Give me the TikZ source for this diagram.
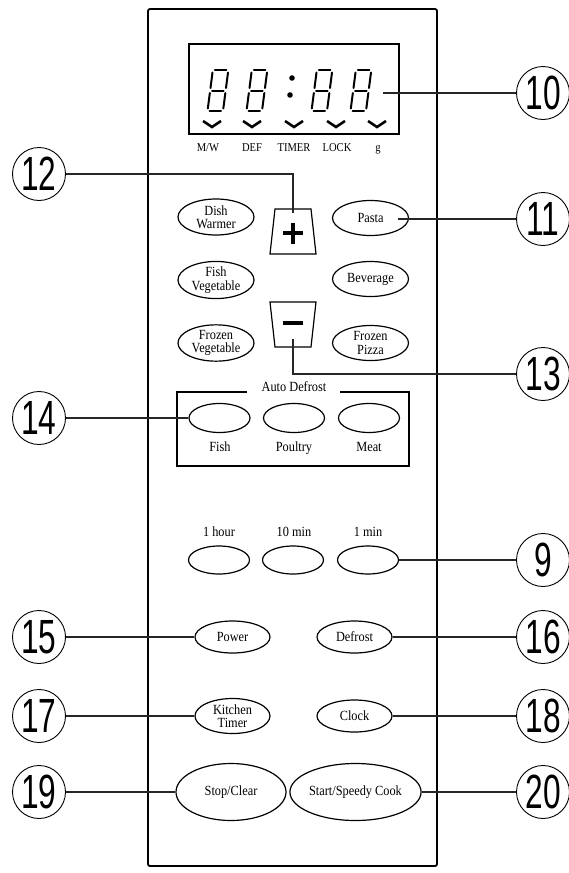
\documentclass[tikz,border=0pt]{standalone}
\usepackage{fontspec}
\usepackage{graphicx}
\setmainfont{Liberation Serif}[FakeStretch=0.88]
\newfontfamily\numfont{Liberation Sans}
\usetikzlibrary{shapes.geometric}
\tikzset{
  btn/.style={ellipse, draw, line width=1.2pt, inner sep=0pt, align=center,
    font=\fontsize{14}{13.5}\selectfont},
  lbl/.style={inner sep=0pt, anchor=base, font=\fontsize{14}{14}\selectfont},
  dlbl/.style={inner sep=0pt, anchor=base, font=\fontsize{12}{12}\selectfont},
  num/.style={circle, draw, line width=0.9pt, minimum size=53pt, inner sep=0pt},
  lead/.style={line width=1.1pt, draw=black!85},
  seg/.style={line width=2pt, line cap=round}
}
\newcommand{\cnum}[1]{\numfont\fontsize{48}{48}\selectfont\scalebox{0.66}[1]{#1}}
\newcommand{\digitseg}[1]{%
  \begin{scope}[shift={(#1,111)}, xslant=0.13]
    \draw[seg] (2.5,0) -- (14,0);
    \draw[seg] (2.5,-20.5) -- (14,-20.5);
    \draw[seg] (2.5,-41) -- (14,-41);
    \draw[seg] (0.5,-2.5) -- (0.5,-18);
    \draw[seg] (0.5,-23) -- (0.5,-38.5);
    \draw[seg] (16,-2.5) -- (16,-18);
    \draw[seg] (16,-23) -- (16,-38.5);
  \end{scope}}
\newcommand{\chev}[1]{\draw[line width=2.6pt] (#1-9,121) -- (#1,127) -- (#1+9,121);}
\begin{document}
\begin{tikzpicture}[x=1pt, y=-1pt]
\useasboundingbox (0,0) rectangle (569,873);
% panel
\draw[line width=1.8pt, rounded corners=2pt] (148,9) rectangle (437,866);
% display
\draw[line width=1.4pt] (189,44) rectangle (399,134);
\digitseg{207}
\digitseg{246}
\digitseg{311}
\digitseg{350}
\fill (292,78) circle (2.8);
\fill (290,95) circle (2.8);
\chev{212}\chev{252}\chev{294}\chev{336}\chev{377}
\node[dlbl] (lmw) at (208,151) {M/W};
\node[dlbl] (ldef) at (252,151) {DEF};
\node[dlbl] (ltim) at (294,151) {TIMER};
\node[dlbl] (llock) at (337,151) {LOCK};
\node[dlbl] (lg) at (378,151) {g};
\coordinate (disp) at (383,93);
% plus / minus keys
\draw[line width=1.2pt] (275,209) -- (311,209) -- (316,254) -- (270,254) -- cycle;
\draw[line width=3.4pt] (283,233) -- (303,233) (293,222.5) -- (293,243.5);
\coordinate (plustop) at (293,213);
\draw[line width=1.2pt] (270,302) -- (316,302) -- (311,347) -- (275,347) -- cycle;
\draw[line width=3.4pt] (283,323) -- (303,323);
\coordinate (minusbot) at (293,339);
% programme buttons
\node[btn, minimum width=76pt, minimum height=36pt] (dish) at (216,217) {Dish\\Warmer};
\node[btn, minimum width=76pt, minimum height=35pt] (pasta) at (370.5,218) {Pasta};
\node[btn, minimum width=76pt, minimum height=35pt] (fishveg) at (216,280) {Fish\\Vegetable};
\node[btn, minimum width=76pt, minimum height=35pt] (bev) at (370.5,279) {Beverage};
\node[btn, minimum width=76pt, minimum height=35pt] (frozveg) at (216,343) {Frozen\\Vegetable};
\node[btn, minimum width=76pt, minimum height=35pt] (frozpiz) at (370.5,343) {Frozen\\Pizza};
\coordinate (pastaend) at (398,219);
% auto defrost
\draw[line width=1.3pt] (247,392) -- (177,392) -- (177,466) -- (409,466) -- (409,392) -- (340,392);
\node[lbl] (adlbl) at (294,391) {Auto Defrost};
\node[btn, minimum width=61pt, minimum height=29pt] (fish) at (219.5,418) {};
\node[btn, minimum width=61pt, minimum height=29pt] (poul) at (294,418) {};
\node[btn, minimum width=61pt, minimum height=29pt] (meat) at (369,418) {};
\node[lbl] (lfish) at (220,451) {Fish};
\node[lbl] (lpoul) at (294,451) {Poultry};
\node[lbl] (lmeat) at (369,451) {Meat};
% time keys
\node[lbl] (lhour) at (219,536) {1 hour};
\node[lbl] (l10) at (294,536) {10 min};
\node[lbl] (l1) at (368,536) {1 min};
\node[btn, minimum width=61pt, minimum height=28pt] (hour) at (219,560) {};
\node[btn, minimum width=61pt, minimum height=28pt] (tenmin) at (293,560) {};
\node[btn, minimum width=61pt, minimum height=28pt] (onemin) at (368,560) {};
% lower keys
\node[btn, minimum width=75pt, minimum height=32pt] (power) at (232.5,637) {Power};
\node[btn, minimum width=75pt, minimum height=32pt] (defrost) at (354.5,637) {Defrost};
\node[btn, minimum width=75pt, minimum height=35pt] (ktimer) at (232.5,716) {Kitchen\\Timer};
\node[btn, minimum width=75pt, minimum height=32pt] (clock) at (354.5,716) {Clock};
\node[btn, minimum width=110pt, minimum height=57pt] (stop) at (231,792) {Stop/Clear};
\node[btn, minimum width=109pt, minimum height=57pt] (start) at (355.5,792) {Start/Speedy Cook};
% number circles
\node[num] (c10) at (543,93) {\cnum{10}};
\node[num] (c12) at (39,174) {\cnum{12}};
\node[num] (c11) at (543,219) {\cnum{11}};
\node[num] (c13) at (543,374) {\cnum{13}};
\node[num] (c14) at (39,418) {\cnum{14}};
\node[num] (c9) at (543,560) {\cnum{9}};
\node[num] (c15) at (39,637) {\cnum{15}};
\node[num] (c16) at (543,637) {\cnum{16}};
\node[num] (c17) at (39,716) {\cnum{17}};
\node[num] (c18) at (543,716) {\cnum{18}};
\node[num] (c19) at (39,792) {\cnum{19}};
\node[num] (c20) at (543,792) {\cnum{20}};
% leaders
\draw[lead] (disp) -- (c10.west);
\draw[lead] (c12.east) -| (plustop);
\draw[lead] (pastaend) -- (c11.west);
\draw[lead] (minusbot) |- (c13.west);
\draw[lead] (c14.east) -- (fish.west);
\draw[lead] (onemin.east) -- (c9.west);
\draw[lead] (c15.east) -- (power.west);
\draw[lead] (defrost.east) -- (c16.west);
\draw[lead] (c17.east) -- (ktimer.west);
\draw[lead] (clock.east) -- (c18.west);
\draw[lead] (c19.east) -- (stop.west);
\draw[lead] (start.east) -- (c20.west);
\end{tikzpicture}
\end{document}
